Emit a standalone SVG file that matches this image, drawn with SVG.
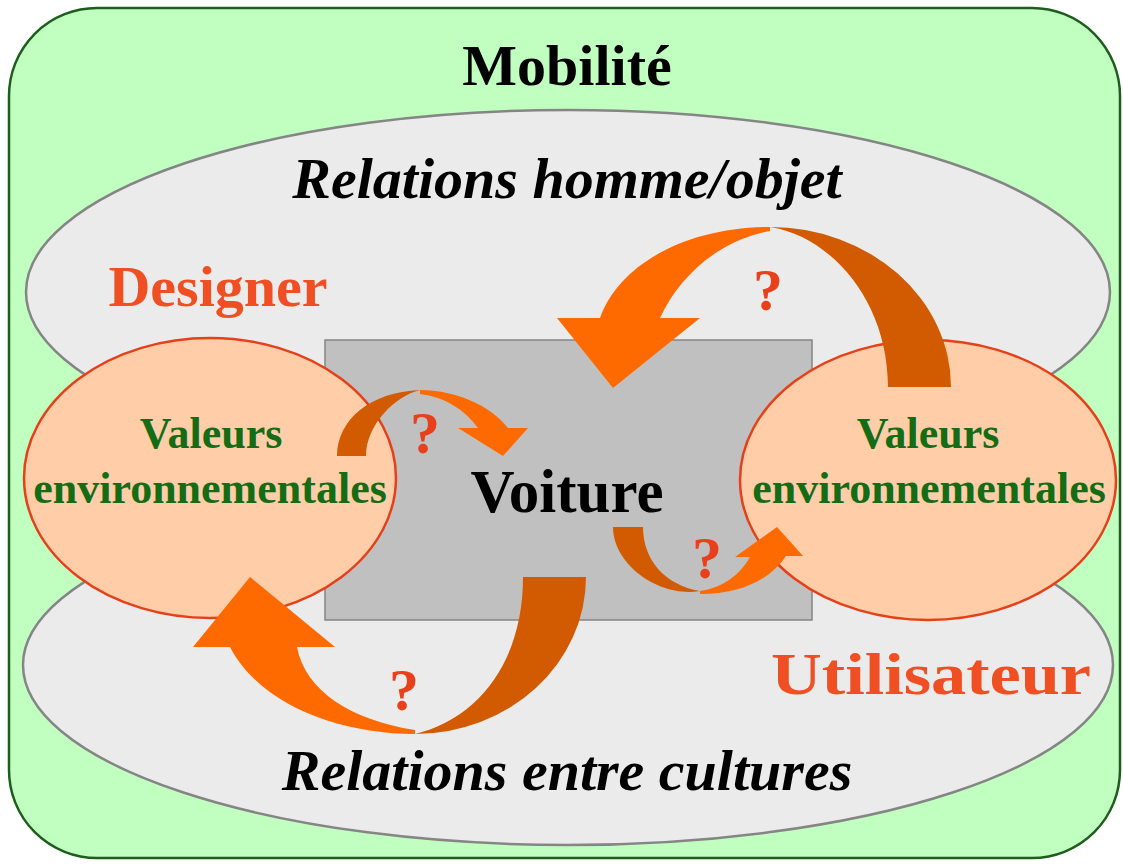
<svg xmlns="http://www.w3.org/2000/svg" width="1123" height="865" viewBox="0 0 1123 865">
<style>
text{font-family:"Liberation Serif","Times New Roman",serif;font-weight:bold;text-anchor:middle}
.big{font-size:58px;fill:#000}
.ital{font-style:italic}
.role{font-size:58px;fill:#ef4f22}
.val{font-size:44px;fill:#146c14}
.q{font-size:60px;fill:#e8401a}
.gray{fill:#ebebeb;stroke:#858585;stroke-width:2.5}
.peach{fill:#ffcda8;stroke:#e5401a;stroke-width:2.5}
.lt{fill:#ff6a00}
.dk{fill:#d25a00}
</style>
<rect width="1123" height="865" fill="#ffffff"/>
<g id="mobilite">
<rect x="9" y="8" width="1111" height="850" rx="88" ry="88" fill="#c0ffc0" stroke="#1d5e1d" stroke-width="2.5"/>
<text class="big" x="567" y="85">Mobilité</text>
</g>
<g id="relations-homme-objet">
<ellipse class="gray" cx="568" cy="292" rx="542" ry="182"/>
<text class="big ital" x="567" y="198">Relations homme/objet</text>
</g>
<g id="relations-entre-cultures">
<ellipse class="gray" cx="568" cy="665" rx="545" ry="180"/>
<text class="big ital" x="567" y="790">Relations entre cultures</text>
</g>
<g id="voiture">
<rect x="325" y="340" width="487" height="280" fill="#c0c0c0" stroke="#858585" stroke-width="1.5"/>
<text class="big" x="567" y="512" style="font-size:61px">Voiture</text>
</g>
<g id="designer">
<text class="role" x="218" y="306">Designer</text>
<ellipse class="peach" cx="210" cy="478" rx="186" ry="140"/>
<text class="val" x="211" y="448">Valeurs</text>
<text class="val" x="210" y="503">environnementales</text>
</g>
<g id="utilisateur">
<ellipse class="peach" cx="928" cy="480" rx="188" ry="140"/>
<text class="val" x="928" y="448">Valeurs</text>
<text class="val" x="929" y="503">environnementales</text>
<text class="role" x="931" y="694" textLength="320" lengthAdjust="spacingAndGlyphs" style="font-size:60px">Utilisateur</text>
</g>
<g id="connectors">
<path class="dk" d="M888,387 L951,387 A181 160 0 0 0 770,227 C830,236 888,300 888,387 Z"/>
<path class="lt" d="M770,227 C690,227 620,262 600,318 L557,318 L613,388 L700,318 L660,318 C680,275 720,240 770,231 Z"/>
<path class="dk" d="M337,456 C337,420 370,392 420,390 C395,396 366,425 366,456 Z"/>
<path class="lt" d="M420,390 C455,390 490,405 508,428 L528,428 L503,456 L458,428 L478,428 C465,410 445,397 420,394 Z"/>
<path class="dk" d="M613,527 L643,527 C643,560 665,585 700,591 C660,598 613,565 613,527 Z"/>
<path class="lt" d="M700,594 C740,594 770,580 786,556 L803,556 L777,527 L735,557 L750,557 C740,575 722,588 700,591 Z"/>
<path class="dk" d="M523,577 L586,577 A171 157 0 0 1 415,734 C480,718 523,660 523,577 Z"/>
<path class="lt" d="M415,734 C340,734 260,705 230,647 L193,647 L250,577 L335,647 L297,647 C305,690 350,720 415,730 Z"/>
<text class="q" x="768" y="310">?</text>
<text class="q" x="425" y="453">?</text>
<text class="q" x="707" y="578">?</text>
<text class="q" x="404" y="710">?</text>
</g>
</svg>
